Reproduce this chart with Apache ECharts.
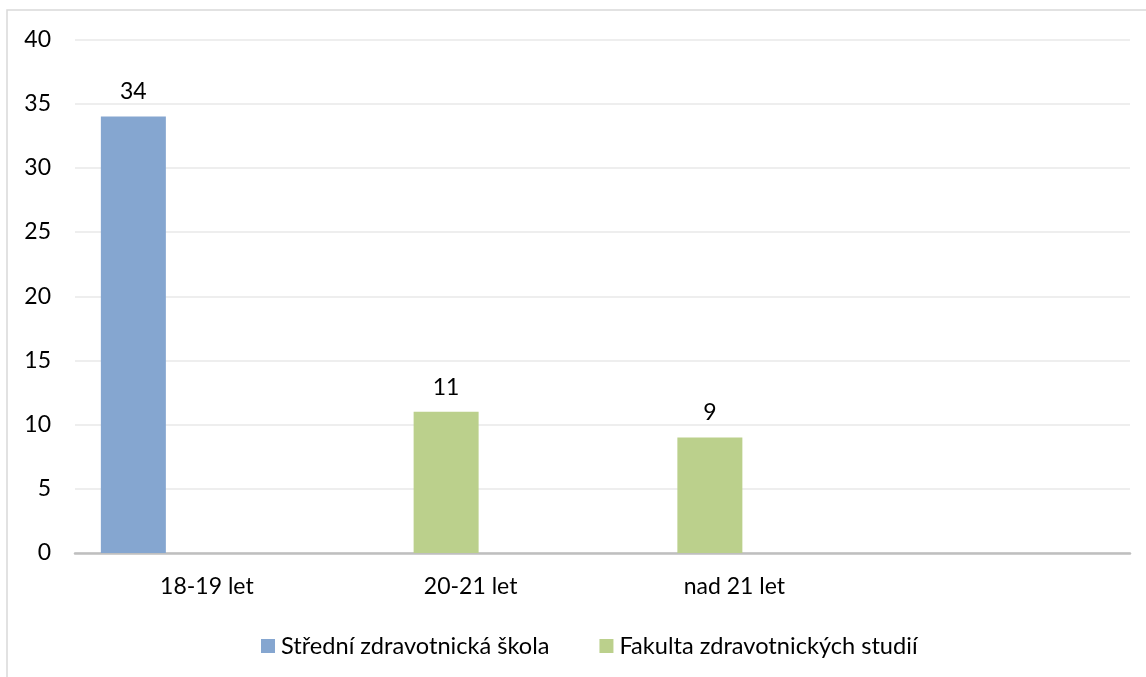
<!DOCTYPE html>
<html>
<head>
<meta charset="utf-8">
<script src="https://cdn.jsdelivr.net/npm/echarts@6/dist/echarts.min.js"></script>
<style>
  html, body { margin: 0; padding: 0; background: #fff; }
  #chart { width: 1146px; height: 677px; }
</style>
</head>
<body>
<div id="chart"></div>
<script>
// Age groups on the x axis (the last slot is left empty)
const categories = ['18-19 let', '20-21 let', 'nad 21 let', ''];
// Counts per school
const strednaSkola = [34, null, null, null];
const fakulta = [null, 11, 9, null];
const seriesNames = ['Střední zdravotnická škola', 'Fakulta zdravotnických studií'];
const yTicks = { min: 0, max: 40, interval: 5 };

const FONT = 'Lato, "Open Sans", sans-serif';
const FS = 23;
const chart = echarts.init(document.getElementById('chart'), null, { renderer: 'canvas' });

const labelStyle = {
  show: true,
  position: 'top',
  distance: 13,
  color: '#000',
  fontFamily: FONT,
  fontSize: FS
};

chart.setOption({
  animation: false,
  backgroundColor: '#fff',
  graphic: [{
    type: 'rect',
    shape: { x: 7, y: 10, width: 1160, height: 700 },
    style: { fill: 'none', stroke: '#d9d9d9', lineWidth: 1.5 },
    silent: true
  }],
  grid: { left: 75, right: 16, top: 39.5, bottom: 124 },
  legend: {
    data: seriesNames,
    bottom: 14,
    left: 256,
    padding: 5,
    itemWidth: 14,
    itemHeight: 14,
    itemGap: 50,
    icon: 'rect',
    textStyle: { color: '#000', fontFamily: FONT, fontSize: 23.6, padding: [0, 0, 0, 1] }
  },
  xAxis: {
    type: 'category',
    data: categories,
    axisLine: { lineStyle: { color: '#bfbfbf', width: 2.5 } },
    axisTick: { show: false },
    axisLabel: { color: '#000', fontFamily: FONT, fontSize: FS, margin: 22 }
  },
  yAxis: {
    type: 'value',
    min: yTicks.min,
    max: yTicks.max,
    interval: yTicks.interval,
    axisLine: { show: false },
    axisTick: { show: false },
    splitLine: { lineStyle: { color: '#eeeeee', width: 2 } },
    axisLabel: { color: '#000', fontFamily: FONT, fontSize: FS, margin: 24 }
  },
  series: [
    {
      name: seriesNames[0], type: 'bar', data: strednaSkola,
      barWidth: 65, barGap: '-24.6%',
      itemStyle: { color: '#85a6d0' }, label: labelStyle
    },
    {
      name: seriesNames[1], type: 'bar', data: fakulta,
      barWidth: 65, barGap: '-24.6%',
      itemStyle: { color: '#bbd08c' }, label: labelStyle
    },
    // two empty slots in each cluster, keeping the bars to the left of centre
    { name: 'x3', type: 'bar', data: [null, null, null, null], barWidth: 65, barGap: '-24.6%' },
    { name: 'x4', type: 'bar', data: [null, null, null, null], barWidth: 65, barGap: '-24.6%' }
  ]
});
</script>
</body>
</html>
